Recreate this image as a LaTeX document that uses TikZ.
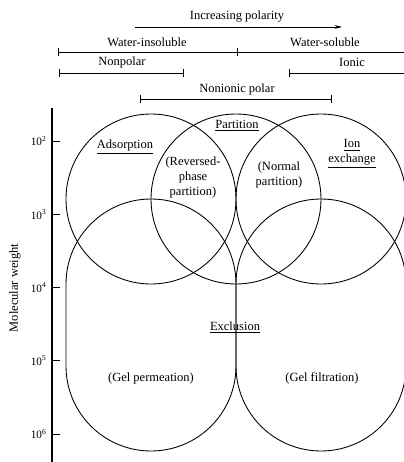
\documentclass[tikz,border=0pt]{standalone}
\usepackage{fontspec}
\setmainfont{Liberation Serif}
\usetikzlibrary{arrows.meta}
\begin{document}
\begin{tikzpicture}[x=0.8pt,y=-0.8pt,
	lbl/.style={inner sep=1pt,align=center},
	bar/.style={line width=0.6pt},
	ring/.style={line width=0.7pt}]
	\useasboundingbox (0,0) rectangle (404,462);
	% polarity scale
	\node[lbl] (incr) at (237,17) {Increasing polarity};
	\coordinate (pa) at (135,27);
	\coordinate (pb) at (342,27);
	\draw[-{Stealth[length=6pt,width=3pt]},bar] (pa) -- (pb);
	\node[lbl] (winsol) at (147,42) {Water-insoluble};
	\node[lbl] (wsol) at (325,42) {Water-soluble};
	\coordinate (wl) at (58,52);
	\coordinate (wm) at (237,52);
	\coordinate (wr) at (412,52);
	\draw[{Bar[width=7pt]}-,bar] (wl) -- (wr);
	\draw[bar] (wm) ++(0,-4) -- ++(0,8);
	\node[lbl] (npol) at (122,62) {Nonpolar};
	\coordinate (nl) at (59,73);
	\coordinate (nr) at (184,73);
	\draw[{Bar[width=7pt]}-{Bar[width=7pt]},bar] (nl) -- (nr);
	\node[lbl] (ion) at (352,62) {Ionic};
	\coordinate (il) at (289,73);
	\coordinate (ir) at (412,73);
	\draw[{Bar[width=7pt]}-,bar] (il) -- (ir);
	\node[lbl] (nipol) at (237,89) {Nonionic polar};
	\coordinate (ql) at (140,99);
	\coordinate (qr) at (332,99);
	\draw[{Bar[width=7pt]}-{Bar[width=7pt]},bar] (ql) -- (qr);
	% molecular weight axis
	\coordinate (ax0) at (52,108);
	\coordinate (ax1) at (52,464);
	\draw[line width=1.2pt] (ax0) -- (ax1);
	\foreach \e in {2,...,6}
		\draw[bar] (52,{141+(\e-2)*73.25}) -- (60,{141+(\e-2)*73.25})
			node[lbl,font=\small,anchor=east] (t\e) at (48,{141+(\e-2)*73.25}) {10\textsuperscript{\e}};
	\node[lbl,rotate=90] (mw) at (15,288) {Molecular weight};
	% methods
	\draw[ring] (151,199) circle[radius=85];
	\draw[ring] (236,199) circle[radius=85];
	\draw[ring] (321,199) circle[radius=85];
	\draw[ring] (66,284) arc[start angle=180,end angle=360,radius=85] -- (236,366)
		arc[start angle=0,end angle=180,radius=85] -- cycle;
	\draw[ring] (236,284) arc[start angle=180,end angle=360,radius=85] -- (406,366)
		arc[start angle=0,end angle=180,radius=85] -- cycle;
	\node[lbl] (ads) at (125,147) {\underline{Adsorption}};
	\node[lbl] (part) at (237,126) {\underline{Partition}};
	\node[lbl] (iex) at (352,154) {\underline{Ion}\\\underline{exchange}};
	\node[lbl] (rev) at (193,177) {(Reversed-\\phase\\partition)};
	\node[lbl] (norm) at (279,175) {(Normal\\partition)};
	\node[lbl] (excl) at (235,327) {\underline{Exclusion}};
	\node[lbl] (gperm) at (151,378) {(Gel permeation)};
	\node[lbl] (gfilt) at (322,378) {(Gel filtration)};
\end{tikzpicture}
\end{document}
